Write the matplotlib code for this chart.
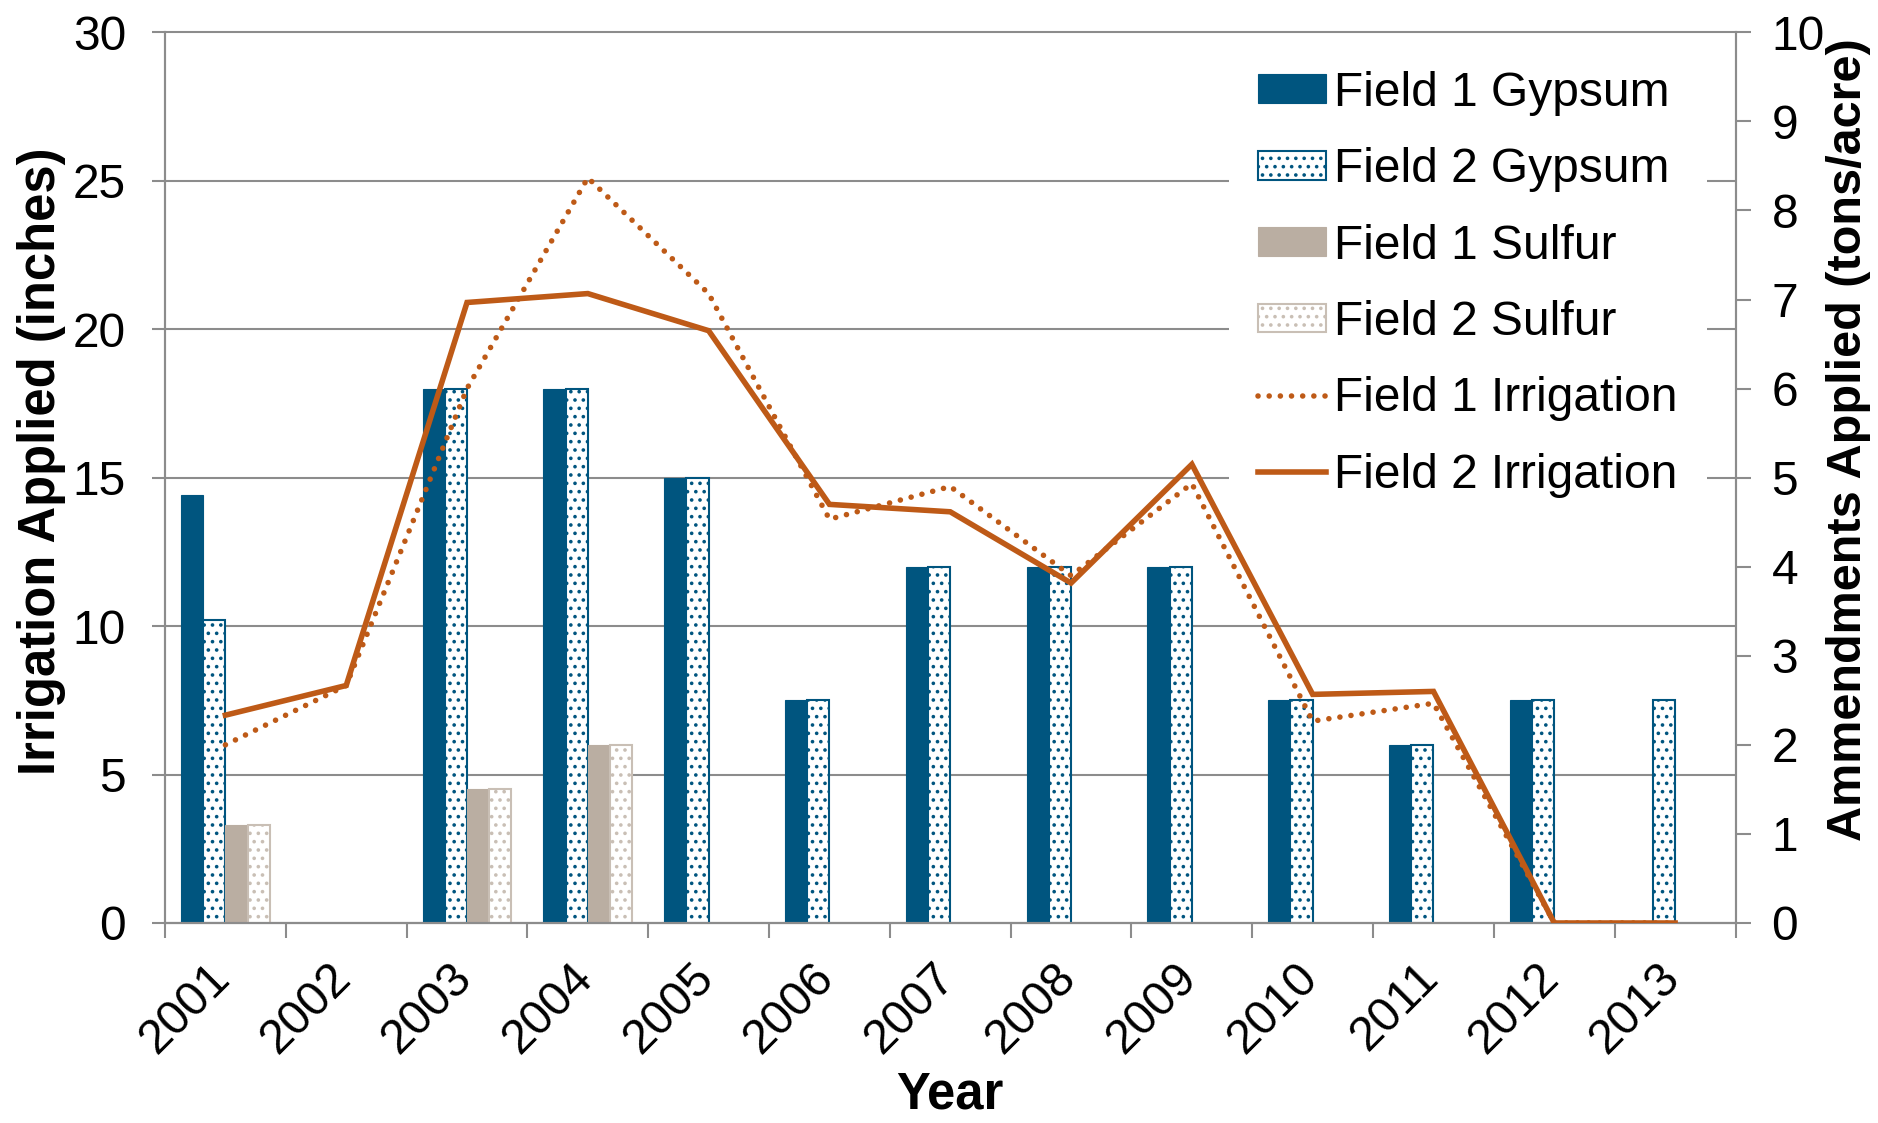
import numpy as np
import matplotlib
matplotlib.use("Agg")
import matplotlib.pyplot as plt
from matplotlib.transforms import blended_transform_factory, ScaledTranslation

plt.rcParams['font.family'] = ['Liberation Sans', 'DejaVu Sans']
plt.rcParams['hatch.linewidth'] = 1.4

# --- data -------------------------------------------------------------
years = ["2001", "2002", "2003", "2004", "2005", "2006", "2007",
         "2008", "2009", "2010", "2011", "2012", "2013"]

# amendments, tons/acre (right axis)
field1_gypsum = [4.8, 0, 6, 6, 5, 2.5, 4, 4, 4, 2.5, 2, 2.5, 0]
field2_gypsum = [3.4, 0, 6, 6, 5, 2.5, 4, 4, 4, 2.5, 2, 2.5, 2.5]
field1_sulfur = [1.1, 0, 1.5, 2, 0, 0, 0, 0, 0, 0, 0, 0, 0]
field2_sulfur = [1.1, 0, 1.5, 2, 0, 0, 0, 0, 0, 0, 0, 0, 0]

# irrigation, inches (left axis)
field1_irrigation = [6.0, 8.0, 18.0, 25.1, 21.2, 13.6, 14.7, 11.7, 14.8, 6.8, 7.4, 0, 0]
field2_irrigation = [7.0, 8.0, 20.9, 21.2, 19.95, 14.1, 13.85, 11.45, 15.45, 7.7, 7.8, 0, 0]

inch_ticks = [0, 5, 10, 15, 20, 25, 30]
ton_ticks = [0, 1, 2, 3, 4, 5, 6, 7, 8, 9, 10]

# --- style ------------------------------------------------------------
BLUE = "#00557F"
TAUPE = "#BAAEA2"
TAUPE_EDGE = "#C9BFB5"
ORANGE = "#BE5A17"
GRID = "#8C8C8C"
FS = 34.5

W, H = 1878, 1123
fig = plt.figure(figsize=(W / 100, H / 100), dpi=100)
L, R, T, B = 165, 1735.5, 32.3, 923
ax = fig.add_axes([L / W, 1 - B / H, (R - L) / W, (B - T) / H])
ax2 = ax.twinx()

x = np.arange(len(years))
bw = 0.184

ax2.set_ylim(0, 30)
ax.set_ylim(0, 10)
ax.set_xlim(-0.5, len(years) - 0.5)

# horizontal gridlines at the irrigation ticks, behind the bars
gtrans = blended_transform_factory(ax.transAxes, ax2.transData)
ax.hlines(inch_ticks, 0, 1, transform=gtrans, color=GRID, lw=1.5,
          zorder=0.5, clip_on=False)

def draw_bars(vals, k, label, **kw):
    v = np.array(vals, dtype=float)
    m = v > 0
    return ax.bar(x[m] + (k - 1.5) * bw, v[m], width=bw, label=label,
                  zorder=2, **kw)

b1 = draw_bars(field1_gypsum, 0, "Field 1 Gypsum", color=BLUE,
               edgecolor=BLUE, linewidth=0.8)
b2 = draw_bars(field2_gypsum, 1, "Field 2 Gypsum", facecolor="white",
               edgecolor=BLUE, hatch="..", linewidth=1.5)
b3 = draw_bars(field1_sulfur, 2, "Field 1 Sulfur", color=TAUPE,
               edgecolor=TAUPE, linewidth=0.8)
b4 = draw_bars(field2_sulfur, 3, "Field 2 Sulfur", facecolor="white",
               edgecolor=TAUPE_EDGE, hatch="..", linewidth=1.5)

l1, = ax2.plot(x, field1_irrigation, color=ORANGE, lw=4.0,
               linestyle=(0, (0.01, 2.0)), dash_capstyle="round",
               label="Field 1 Irrigation", zorder=3)
l2, = ax2.plot(x, field2_irrigation, color=ORANGE, lw=4.0,
               solid_joinstyle="miter", label="Field 2 Irrigation", zorder=3)

# axes & spines
for a in (ax, ax2):
    a.spines["top"].set_visible(False)
    for s in ("left", "right", "bottom"):
        a.spines[s].set_color(GRID)
        a.spines[s].set_linewidth(1.5)

ax.yaxis.tick_right()
ax.yaxis.set_label_position("right")
ax.set_yticks(ton_ticks)
ax.tick_params(axis="y", which="major", direction="out", length=11,
               width=1.5, color=GRID, labelsize=FS, pad=15)

ax2.yaxis.tick_left()
ax2.yaxis.set_label_position("left")
ax2.set_yticks(inch_ticks)
ax2.tick_params(axis="y", which="major", direction="out", length=9.5,
                width=1.5, color=GRID, labelsize=FS, pad=18.5)

ax.set_xticks(np.arange(-0.5, len(years), 1.0))
ax.set_xticklabels([])
ax.set_xticks(x, minor=True)
ax.set_xticklabels(years, minor=True, rotation=45, ha="right",
                   rotation_mode="anchor", fontsize=FS)
ax.tick_params(axis="x", which="major", direction="out", length=11,
               width=1.5, color=GRID)
ax.tick_params(axis="x", which="minor", length=0, pad=23)
shift = ScaledTranslation(-18 / 100, 0, fig.dpi_scale_trans)
for lab in ax.get_xticklabels(minor=True):
    lab.set_transform(lab.get_transform() + shift)

ax2.set_ylabel("Irrigation Applied (inches)", fontsize=36.5, fontweight="bold")
ax2.yaxis.set_label_coords(-0.063, 0.518)
ax.set_ylabel("Ammendments Applied (tons/acre)", fontsize=35,
              fontweight="bold", rotation=90)
ax.yaxis.set_label_coords(1.0576, 0.543)
ax.set_xlabel("Year", fontsize=36.5, fontweight="bold")
ax.xaxis.set_label_coords(0.5, -0.166)

handles = [b1, b2, b3, b4, l1, l2]
labels = [h.get_label() for h in handles]
leg = ax2.legend(handles, labels, loc="upper left",
                 bbox_to_anchor=(1229 / W, 1 - 42 / H),
                 bbox_transform=fig.transFigure, fontsize=FS,
                 frameon=True, fancybox=False, framealpha=1,
                 facecolor="white", edgecolor="none", borderpad=0.6,
                 handlelength=1.42, handleheight=0.55, handletextpad=0.18,
                 labelspacing=0.655, borderaxespad=0)
leg.set_zorder(10)

fig.savefig("out.png", dpi=100)
